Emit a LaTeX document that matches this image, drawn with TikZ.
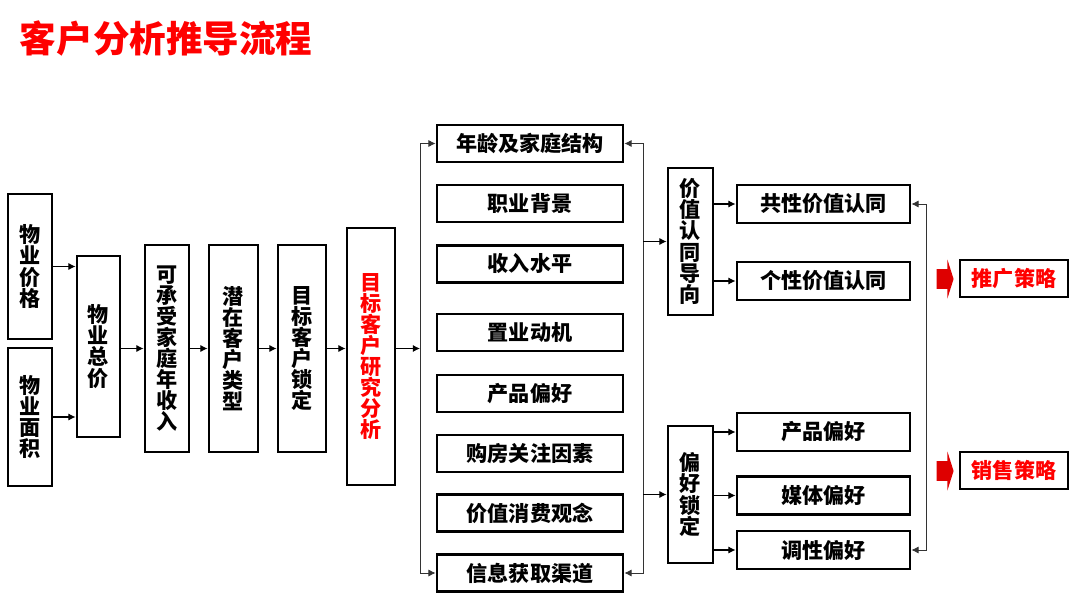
\documentclass[tikz,border=0pt]{standalone}
\usepackage{fontspec}
\setmainfont{Noto Sans CJK SC}
\usetikzlibrary{arrows.meta,shapes.arrows}
\definecolor{keyred}{RGB}{255,0,0}
\definecolor{blockred}{RGB}{222,0,0}

\begin{document}
\begin{tikzpicture}[x=0.025cm,y=-0.025cm,>={Latex[length=1.8mm,width=1.8mm]},
    box/.style={draw,line width=2pt,inner sep=0pt,align=center,font=\bfseries\fontsize{15}{15}\selectfont},
    flow/.style={->,line width=0.8pt},
    bus/.style={line width=0.6pt,black!80},
    block/.style={single arrow,fill=blockred,inner xsep=0pt,inner ysep=0.24cm,minimum height=0.425cm,minimum width=0.95cm,single arrow head extend=0.24cm,single arrow tip angle=145}]

    \useasboundingbox (0,0) rectangle (1080,605);
    % title
    \node[anchor=west,text=keyred,font=\bfseries\fontsize{26}{26}\selectfont] (title) at (15,38.5) {客户分析推导流程};

    % price and area give the total
    \node[box,minimum width=1.1cm,minimum height=3.625cm] (price) at (30,266.5) {物\\业\\价\\格};
    \node[box,minimum width=1.1cm,minimum height=3.45cm] (area) at (30,417) {物\\业\\面\\积};
    \node[box,minimum width=1.075cm,minimum height=4.525cm] (total) at (98.5,346.5) {物\\业\\总\\价};
    \draw[flow] (price.east) -- (price.east -| total.west);
    \draw[flow] (area.east) -- (area.east -| total.west);

    % main chain
    \node[box,minimum width=1.1cm,minimum height=5.175cm] (income) at (167,348.5) {可\\承\\受\\家\\庭\\年\\收\\入};
    \node[box,minimum width=1.225cm,minimum height=5.175cm] (latent) at (233.5,348.5) {潜\\在\\客\\户\\类\\型};
    \node[box,minimum width=1.2cm,minimum height=5.175cm] (target) at (302,348.5) {目\\标\\客\\户\\锁\\定};
    \node[box,minimum width=1.2cm,minimum height=6.425cm,text=keyred] (research) at (371,356.5) {目\\标\\客\\户\\研\\究\\分\\析};
    \draw[flow] (total.east |- income.west) -- (income.west);
    \draw[flow] (income.east) -- (latent.west);
    \draw[flow] (latent.east) -- (target.west);
    \draw[flow] (target.east) -- (target.east -| research.west);

    % research items
    \node[box,minimum width=4.65cm,minimum height=0.925cm] (age) at (530,143.5) {年龄及家庭结构};
    \node[box,minimum width=4.65cm,minimum height=0.925cm] (job) at (530,203.5) {职业背景};
    \node[box,minimum width=4.65cm,minimum height=0.925cm] (earn) at (530,264) {收入水平};
    \node[box,minimum width=4.65cm,minimum height=0.925cm] (motive) at (530,332.5) {置业动机};
    \node[box,minimum width=4.65cm,minimum height=0.925cm] (product) at (530,393.5) {产品偏好};
    \node[box,minimum width=4.65cm,minimum height=0.925cm] (concern) at (530,453.5) {购房关注因素};
    \node[box,minimum width=4.65cm,minimum height=0.925cm] (value) at (530,513) {价值消费观念};
    \node[box,minimum width=4.65cm,minimum height=0.925cm] (info) at (530,573) {信息获取渠道};

    % left bus
    \coordinate (lbus) at (420,348.5);
    \draw[flow] (research.east |- lbus) -- (lbus);
    \draw[flow,bus] (lbus) |- (age.west);
    \draw[flow,bus] (lbus) |- (info.west);

    % right bus
    \coordinate (rbus) at (643,0);
    \draw[bus,<->] (age.east) -- (age.east -| rbus) -- (info.east -| rbus) -- (info.east);

    % two directions
    \node[box,minimum width=1.125cm,minimum height=3.675cm] (orient) at (690.5,241.5) {价\\值\\认\\同\\导\\向};
    \node[box,minimum width=1.125cm,minimum height=3.425cm] (pref) at (690.5,494.5) {偏\\好\\锁\\定};
    \draw[flow] (orient.west -| rbus) -- (orient.west);
    \draw[flow] (pref.west -| rbus) -- (pref.west);

    % value and preference items
    \node[box,minimum width=4.325cm,minimum height=0.95cm] (common) at (823.5,204) {共性价值认同};
    \node[box,minimum width=4.325cm,minimum height=0.95cm] (indiv) at (823.5,281) {个性价值认同};
    \node[box,minimum width=4.325cm,minimum height=0.95cm] (prodpref) at (823.5,432) {产品偏好};
    \node[box,minimum width=4.325cm,minimum height=0.95cm] (media) at (823.5,495.5) {媒体偏好};
    \node[box,minimum width=4.325cm,minimum height=0.95cm] (tone) at (823.5,550) {调性偏好};
    \draw[flow] (orient.east |- common.west) -- (common.west);
    \draw[flow] (orient.east |- indiv.west) -- (indiv.west);
    \draw[flow] (pref.east |- prodpref.west) -- (prodpref.west);
    \draw[flow] (pref.east |- media.west) -- (media.west);
    \draw[flow] (pref.east |- tone.west) -- (tone.west);

    % strategy bus
    \coordinate (sbus) at (926,0);
    \draw[bus,<->] (common.east) -- (common.east -| sbus) -- (tone.east -| sbus) -- (tone.east);

    % strategies
    \node[block] (pusharrow) at (943.5,279) {};
    \node[block] (salearrow) at (943.5,471) {};
    \node[box,minimum width=2.7cm,minimum height=0.925cm,text=keyred] (promo) at (1014,278.5) {推广策略};
    \node[box,minimum width=2.7cm,minimum height=0.925cm,text=keyred] (sales) at (1014,470.5) {销售策略};
\end{tikzpicture}
\end{document}
